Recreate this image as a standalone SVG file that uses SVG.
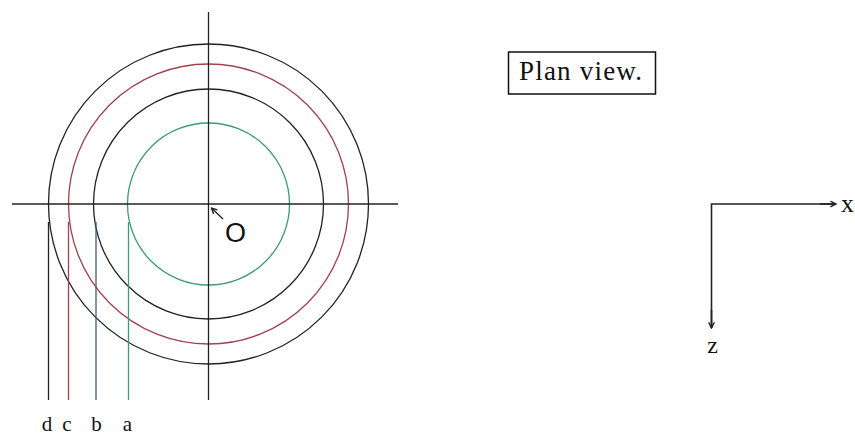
<svg xmlns="http://www.w3.org/2000/svg" width="855" height="436" viewBox="0 0 855 436">
<style>
.ln{fill:none;stroke-width:1.3}
.k{stroke:#222}
.r{stroke:#a04050}
.g{stroke:#3f9a78}
.b{stroke:#4a5878}
.ax{fill:none;stroke:#222;stroke-width:1.6}
.t{font-family:"Liberation Serif",serif;fill:#111}
.s{font-family:"Liberation Sans",sans-serif;fill:#111}
</style>
<defs>
<marker id="chev" viewBox="0 0 10 10" refX="9" refY="5" markerWidth="7" markerHeight="7" orient="auto" markerUnits="userSpaceOnUse">
<path d="M1,1 L9,5 L1,9" fill="none" stroke="#222" stroke-width="2"/>
</marker>
</defs>
<rect width="855" height="436" fill="#fff"/>
<g id="circles">
<circle id="circle-d" class="ln k" cx="208.5" cy="204" r="160"/>
<circle id="circle-c" class="ln r" cx="208.5" cy="204" r="140"/>
<circle id="circle-b" class="ln k" cx="208.5" cy="204" r="115"/>
<circle id="circle-a" class="ln g" cx="208.5" cy="204" r="81"/>
</g>
<g id="connectors">
<line class="ln k" x1="12" y1="204" x2="398" y2="204"/>
<line class="ln k" x1="208.5" y1="12" x2="208.5" y2="400"/>
<line class="ln k" x1="48.5" y1="222" x2="48.5" y2="400"/>
<line class="ln r" x1="68.5" y1="222" x2="68.5" y2="400"/>
<line class="ln b" x1="96" y1="222" x2="96" y2="400"/>
<line class="ln g" x1="128.5" y1="222" x2="128.5" y2="400"/>
<line class="ln k" x1="223" y1="219" x2="211.5" y2="208" marker-end="url(#chev)"/>
<polyline class="ax" points="836,204 711.5,204 711.5,328"/>
<line class="ax" x1="820" y1="204" x2="836" y2="204" marker-end="url(#chev)"/>
<line class="ax" x1="711.5" y1="310" x2="711.5" y2="328" marker-end="url(#chev)"/>
</g>
<g id="labels">
<text class="s" x="235.5" y="242" font-size="27" text-anchor="middle">O</text>
<text class="t" x="47" y="431" font-size="21" text-anchor="middle">d</text>
<text class="t" x="67" y="431" font-size="21" text-anchor="middle">c</text>
<text class="t" x="96.5" y="431" font-size="21" text-anchor="middle">b</text>
<text class="t" x="127.5" y="431" font-size="21" text-anchor="middle">a</text>
</g>
<g id="plan-view">
<rect x="508.5" y="52" width="147" height="42" fill="#fff" stroke="#111" stroke-width="1.5"/>
<text class="t" x="519" y="79.5" font-size="27" textLength="123">Plan view.</text>
</g>
<g id="axis-labels">
<text class="t" x="841" y="212" font-size="26">x</text>
<text class="t" x="712.5" y="353" font-size="24" text-anchor="middle">z</text>
</g>
</svg>
